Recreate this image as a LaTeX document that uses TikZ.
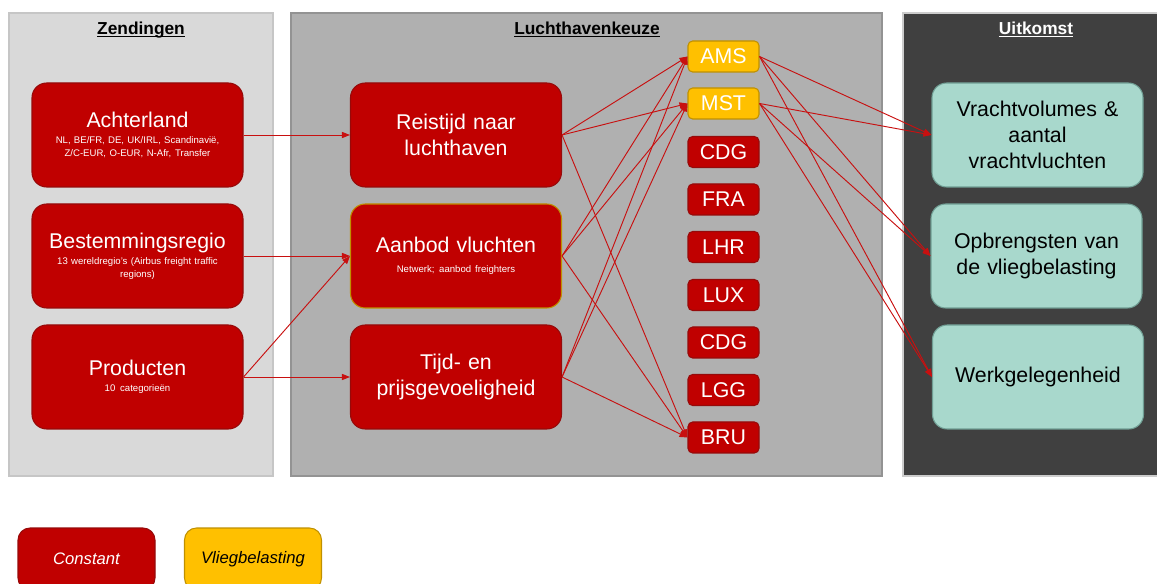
\documentclass[tikz,border=0pt]{standalone}
\usepackage{fontspec}
\setmainfont{Liberation Sans}
\usetikzlibrary{arrows.meta,backgrounds,fit}
\definecolor{constred}{RGB}{192,0,0}
\definecolor{constedge}{RGB}{150,10,10}
\definecolor{taxyellow}{RGB}{255,192,0}
\definecolor{taxedge}{RGB}{191,144,0}
\definecolor{outteal}{RGB}{168,216,204}
\definecolor{outedge}{RGB}{112,158,148}
\definecolor{linkred}{RGB}{200,16,16}
\definecolor{zendgray}{RGB}{217,217,217}
\definecolor{keuzegray}{RGB}{176,176,176}
\definecolor{uitkomstgray}{RGB}{64,64,64}

\begin{document}
\begin{tikzpicture}[
  x=0.75pt,
  y=-0.75pt,
  link/.style={
    draw=linkred,
    line width=0.7pt,
    -{Triangle[length=6pt,width=4.6pt]}
  },
  panel/.style={
    draw=#1,
    line width=0.9pt,
    inner sep=0pt
  },
  panel title/.style={
    font=\fontsize{13}{15}\selectfont\bfseries,
    anchor=base,
    inner sep=1pt
  },
  big box/.style={
    rounded corners=11pt,
    line width=0.8pt,
    minimum width=158.25pt,
    minimum height=78pt,
    text width=150pt,
    inner sep=0pt,
    align=center,
    font=\fontsize{16}{19.5}\selectfont
  },
  const box/.style={big box, fill=constred, draw=constedge, text=white},
  tax box/.style={big box, fill=constred, draw=taxedge, text=white},
  out box/.style={big box, fill=outteal, draw=outedge, text=black},
  port box/.style={
    rounded corners=3.5pt,
    line width=0.8pt,
    minimum width=53.25pt,
    minimum height=23.25pt,
    inner sep=0pt,
    font=\fontsize{16}{19.5}\selectfont,
    fill=#1
  },
  port const/.style={port box=constred, draw=constedge, text=white},
  port tax/.style={port box=taxyellow, draw=taxedge, text=white},
  legend box/.style={
    rounded corners=9pt,
    line width=0.8pt,
    minimum width=102.75pt,
    minimum height=46.5pt,
    inner sep=0pt,
    font=\fontsize{12.5}{15}\selectfont\itshape
  }
]

\def\boxhead{\fontsize{16}{19.5}\selectfont}
\def\boxsub{\fontsize{7.2}{9.2}\selectfont\spaceskip=0pt\xspaceskip=0pt}
\def\titleline#1{\setbox0\hbox{#1}\rlap{\rule[-1.7pt]{\wd0}{0.9pt}}\box0}

\useasboundingbox (0,0) rectangle (1157,584);

% Named panel corners.  The panels are drawn later using the fit library.
\foreach \panelname/\xmin/\xmax in {
  zend/9/273,
  keuze/291/882,
  uitkomst/903/1160}{
  \coordinate (\panelname-nw) at (\xmin,13);
  \coordinate (\panelname-se) at (\xmax,476);
}

\begin{scope}[on background layer]
  \node[panel=gray!45, fill=zendgray, fit=(zend-nw)(zend-se)] (zend) {};
  \node[panel=gray!85, fill=keuzegray, fit=(keuze-nw)(keuze-se)] (keuze) {};
  \node[panel=gray!40, fill=uitkomstgray, fit=(uitkomst-nw)(uitkomst-se)] (uitkomst) {};
\end{scope}

\node[panel title] (zend-title) at (141,35) {\titleline{Zendingen}};
\node[panel title] (keuze-title) at (587,35) {\titleline{Luchthavenkeuze}};
\node[panel title, text=white] (uitkomst-title) at (1036,35) {\titleline{Uitkomst}};

% Zendingen: the three shipment characteristics.
\node[const box] (achterland) at (137.5,135) {%
  \vspace{2pt}{\boxhead Achterland\par}\vspace{0.8pt}%
  {\boxsub NL, BE/FR, DE, UK/IRL, Scandinavië,\\ Z/C-EUR, O-EUR, N-Afr, Transfer\par}};
\node[const box] (bestemming) at (137.5,256) {%
  \vspace{2pt}{\boxhead Bestemmingsregio\par}\vspace{1.2pt}%
  {\boxsub 13 wereldregio’s (Airbus freight traffic\\ regions)\par}};
\node[const box] (producten) at (137.5,377) {%
  \vspace{2pt}{\boxhead Producten\par}\vspace{0.5pt}%
  {\boxsub 10 categorieën\par}};

% Luchthavenkeuze: the three choice factors.
\node[const box] (reistijd) at (456,135) {Reistijd naar\\ luchthaven};
\node[tax box] (aanbod) at (456,256) {%
  \vspace{3pt}{\boxhead Aanbod vluchten\par}\vspace{2.5pt}%
  {\boxsub Netwerk; aanbod freighters\par}};
\node[const box] (tijdprijs) at (456,377) {Tijd- en\\ prijsgevoeligheid};

% The airports, top to bottom.
\foreach \code/\ypos/\kind [count=\i] in {
  AMS/56.5/tax,
  MST/103.5/tax,
  CDG/152/const,
  FRA/199.5/const,
  LHR/247/const,
  LUX/295/const,
  CDG/342.5/const,
  LGG/390/const,
  BRU/437.5/const}{
  \node[port \kind] (port\i) at (723.5,\ypos) {\code};
}

% Uitkomst: the three outcomes.
\node[out box] (volumes) at (1037.5,135) {Vrachtvolumes \&\\ aantal\\ vrachtvluchten};
\node[out box] (opbrengst) at (1036.5,256) {Opbrengsten van\\ de vliegbelasting};
\node[out box] (werk) at (1038,377) {Werkgelegenheid};

% Shipments feed the choice factors.
\draw[link] (achterland.east) -- (reistijd.west);
\draw[link] (bestemming.east) -- (aanbod.west);
\draw[link] (producten.east) -- (tijdprijs.west);
\draw[link] (producten.east) -- (aanbod.west);

% Every factor points at AMS, MST and BRU.
\foreach \src in {reistijd,aanbod,tijdprijs}{
  \foreach \dst in {port1,port2,port9}{
    \draw[link] (\src.east) -- (\dst.west);
  }
}

% AMS and MST drive all three outcomes.
\foreach \src in {port1,port2}{
  \foreach \dst in {volumes,opbrengst,werk}{
    \draw[link] (\src.east) -- (\dst.west);
  }
}

% Legend.
\node[legend box, fill=constred, draw=constedge, text=white] (legend-const) at (86.5,559) {Constant};
\node[legend box, fill=taxyellow, draw=taxedge, text=black] (legend-tax) at (253,559) {Vliegbelasting};

\end{tikzpicture}
\end{document}
